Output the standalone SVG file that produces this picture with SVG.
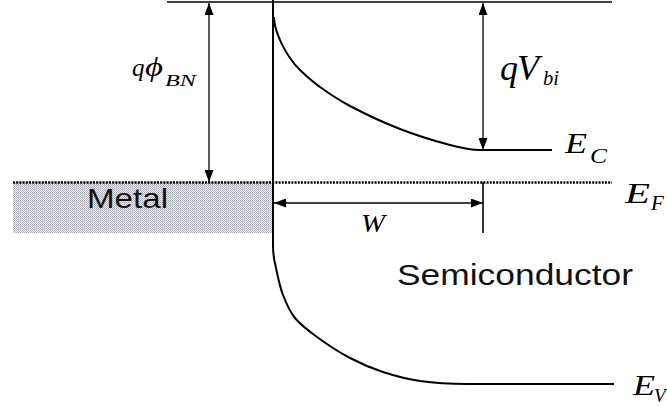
<svg xmlns="http://www.w3.org/2000/svg" width="667" height="406" viewBox="0 0 667 406">
<defs>
<style>
.ln{stroke:#000;stroke-width:1.6;fill:none}
.ar{stroke:#000;stroke-width:1.3;fill:none;marker-start:url(#ah);marker-end:url(#ah)}
.band{stroke:#000;stroke-width:2;fill:none}
.m{font-family:"Liberation Serif","Times New Roman",serif;font-style:italic;fill:#000}
.s{font-family:"Liberation Sans",Arial,sans-serif;fill:#111}
</style>
<marker id="ah" viewBox="0 0 12 9" refX="12" refY="4.5" markerWidth="12" markerHeight="9" markerUnits="userSpaceOnUse" orient="auto-start-reverse">
<path d="M0,0 L12,4.5 L0,9 Z" fill="#000"/>
</marker>
<pattern id="dots" width="2" height="2" patternUnits="userSpaceOnUse">
<rect width="2" height="2" fill="#ececf0"/>
<rect width="1" height="1" fill="#a8a8b0"/>
<rect x="1" y="1" width="1" height="1" fill="#b8b8c0"/>
</pattern>
</defs>
<rect width="667" height="406" fill="#fff"/>
<g id="metal">
<rect x="13" y="182" width="260" height="51" fill="url(#dots)"/>
<text class="s" x="87" y="208" font-size="28" textLength="81" lengthAdjust="spacingAndGlyphs">Metal</text>
</g>
<g id="bands">
<line class="ln" x1="167" y1="2" x2="612" y2="2"/>
<path class="band" d="M273,0 L273,245 C273,257 274.3,259.7 276,268 C277.7,276.3 279.8,286.7 283,295 C286.2,303.3 289.3,311 295,318 C300.7,325 307.8,330.3 317,337 C326.2,343.7 339,352.2 350,358 C361,363.8 371.3,368.2 383,372 C394.7,375.8 406,379 420,381 C434,383 455,384 467,384 L614,384"/>
<path class="band" d="M274,17 C274,27 277.3,33.2 280,40 C282.7,46.8 286.7,53 290,58 C293.3,63 295,65.2 300,70 C305,74.8 311.7,81 320,87 C328.3,93 336.7,99 350,106 C363.3,113 383.3,122.5 400,129 C416.7,135.5 436.7,141.5 450,145 C463.3,148.5 470,150 480,150 L552,150"/>
<line x1="13" y1="182.5" x2="612" y2="182.5" stroke="#000" stroke-width="2.5" stroke-dasharray="2,1.2"/>
</g>
<g id="connectors">
<line class="ar" x1="209" y1="3" x2="209" y2="182"/>
<line class="ar" x1="483" y1="3" x2="483" y2="150"/>
<line class="ar" x1="274" y1="203" x2="483" y2="203"/>
<line class="ln" x1="483" y1="182" x2="483" y2="233" stroke-width="1.3"/>
</g>
<g id="labels">
<text class="m" x="132" y="76" font-size="25">q</text>
<text class="m" x="145" y="76" font-size="28" textLength="18" lengthAdjust="spacingAndGlyphs">ϕ</text>
<text class="m" x="165" y="86" font-size="17" textLength="31" lengthAdjust="spacingAndGlyphs">BN</text>
<text class="m" x="500" y="80" font-size="36">q</text>
<text class="m" x="517" y="80" font-size="36" textLength="22" lengthAdjust="spacingAndGlyphs">V</text>
<text class="m" x="543" y="85" font-size="20" textLength="16" lengthAdjust="spacingAndGlyphs">bi</text>
<text class="m" x="565" y="153" font-size="30" textLength="22" lengthAdjust="spacingAndGlyphs">E</text>
<text class="m" x="590" y="163" font-size="21" textLength="17" lengthAdjust="spacingAndGlyphs">C</text>
<text class="m" x="625" y="203" font-size="30" textLength="25" lengthAdjust="spacingAndGlyphs">E</text>
<text class="m" x="651" y="210" font-size="21">F</text>
<text class="m" x="633" y="395" font-size="30" textLength="22" lengthAdjust="spacingAndGlyphs">E</text>
<text class="m" x="654" y="402" font-size="19">V</text>
<text class="m" x="361" y="232" font-size="26" textLength="24" lengthAdjust="spacingAndGlyphs">W</text>
<text class="s" x="397" y="285" font-size="30" textLength="236" lengthAdjust="spacingAndGlyphs">Semiconductor</text>
</g>
</svg>
